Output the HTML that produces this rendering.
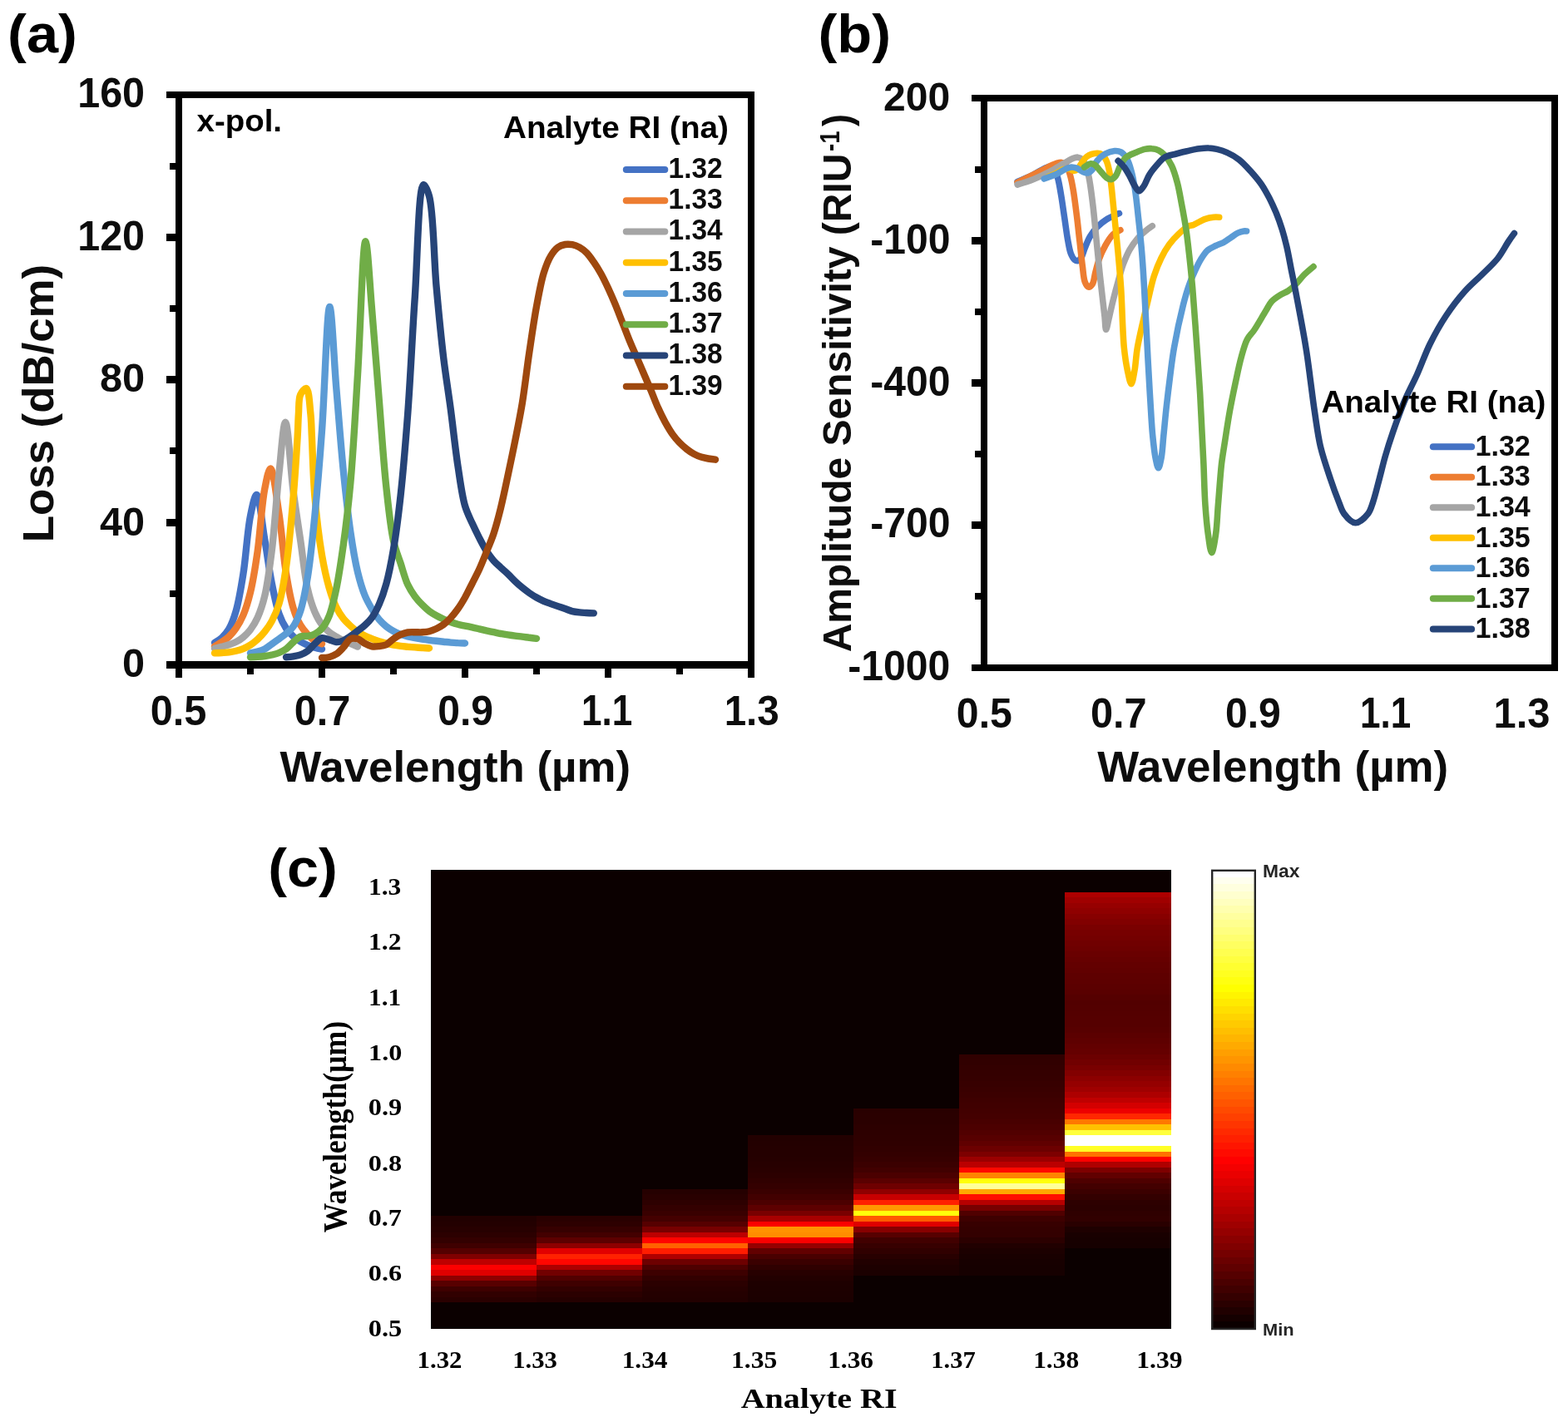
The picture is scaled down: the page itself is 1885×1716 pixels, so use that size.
<!DOCTYPE html>
<html lang="en">
<head>
<meta charset="utf-8">
<title>Loss spectra, amplitude sensitivity and loss map versus analyte RI</title>
<style>
html,body{margin:0;padding:0;background:#fff;}
body{width:1885px;height:1716px;overflow:hidden;}
svg{display:block;}
text{white-space:pre;}
</style>
</head>
<body>
<svg xmlns="http://www.w3.org/2000/svg" width="1885" height="1716" viewBox="0 0 1885 1716">
<rect x="0" y="0" width="1885" height="1716" fill="#fff"/>
<g id="panelA">
<g shape-rendering="crispEdges">
<rect x="211" y="110" width="8" height="705" fill="#000"/>
<rect x="899" y="110" width="8" height="705" fill="#000"/>
<rect x="200" y="110" width="707" height="8" fill="#000"/>
<rect x="200" y="795" width="707" height="9" fill="#000"/>
<rect x="204" y="196" width="11" height="8" fill="#000"/>
<rect x="200" y="281" width="15" height="9" fill="#000"/>
<rect x="204" y="367" width="11" height="8" fill="#000"/>
<rect x="200" y="452" width="15" height="9" fill="#000"/>
<rect x="204" y="538" width="11" height="8" fill="#000"/>
<rect x="200" y="624" width="15" height="9" fill="#000"/>
<rect x="204" y="710" width="11" height="8" fill="#000"/>
<rect x="297" y="800" width="8" height="11" fill="#000"/>
<rect x="383" y="800" width="8" height="15" fill="#000"/>
<rect x="469" y="800" width="8" height="11" fill="#000"/>
<rect x="555" y="800" width="8" height="15" fill="#000"/>
<rect x="641" y="800" width="8" height="11" fill="#000"/>
<rect x="727" y="800" width="8" height="15" fill="#000"/>
<rect x="813" y="800" width="8" height="11" fill="#000"/>
</g>
<path d="M258,772.8C258,772.8 263.9,769.5 266.6,767C269.7,764.2 272.6,760.8 275.2,756.4C278.6,750.6 281.3,743.1 283.8,734.4C287.3,722.3 289.8,706.7 292.4,690.2C295.7,669.7 297.4,637.9 301,620.5C303.2,609.8 306.1,594.8 308.5,594.9C311.9,595.1 315.1,630.6 318.2,648.4C321.2,666.1 323.6,685.5 326.8,701.5C329.4,714.8 331.9,728 335.4,737.8C337.9,744.9 340.8,750.7 344,755.6C346.6,759.5 349.6,762.6 352.6,765.3C355.3,767.8 358.3,769.7 361.2,771.5C364,773.2 366.9,774.6 369.8,775.8C372.6,777 375.5,777.8 378.4,778.6C381.2,779.4 387,780.5 387,780.5" fill="none" stroke="#4472C4" stroke-width="8.4" stroke-linecap="round" stroke-linejoin="round"/>
<path d="M258,777.3C258,777.3 263.8,773.9 266.6,772C269.5,770 272.5,768.2 275.2,765.6C278.2,762.7 281.1,759.3 283.8,755.4C286.9,750.9 289.8,745.8 292.4,739.7C295.7,731.9 298.4,722.8 301,712.2C304.4,698.3 307,681.4 309.6,663.3C312.8,641 314.6,606.3 318.2,588.1C320.3,577.5 322.9,563.3 325.2,563.4C328.6,563.6 332.4,598.3 335.4,617.7C338.8,640 340.6,669 344,689.7C346.6,705.5 349.1,719.9 352.6,731.2C355.1,739.4 357.9,746.1 361.2,751.7C363.8,756.2 366.8,759.6 369.8,762.8C372.5,765.7 375.4,768.6 378.4,770.5C381.1,772.2 387,774.2 387,774.2" fill="none" stroke="#ED7D31" stroke-width="8.4" stroke-linecap="round" stroke-linejoin="round"/>
<path d="M258,779.8C258,779.8 263.7,778.4 266.6,777.7C269.5,776.9 272.4,776.3 275.2,775.3C278.1,774.3 281,773.4 283.8,771.9C286.7,770.4 289.7,768.5 292.4,766.2C295.4,763.7 298.3,760.7 301,757.2C304.1,753.1 307,748.4 309.6,742.7C312.9,735.5 315.7,727.2 318.2,716.8C321.8,702 324.2,682.4 326.8,661.6C330.1,634.8 332.4,597 335.4,569.4C337.9,546.8 340.5,507.7 343.1,507.7C346.2,507.7 349.3,565.6 352.6,590.9C355.4,612.2 358.3,630.2 361.2,649.8C364.1,669.3 366.2,692.3 369.8,708C372.3,719.1 375.1,728 378.4,735.8C381,741.8 383.8,747 387,751.2C389.7,754.7 392.6,757.5 395.6,760C398.3,762.3 401.3,763.9 404.2,765.6C407,767.3 409.9,769 412.8,770.4C415.6,771.8 418.5,772.7 421.4,773.9C424.3,775.1 430,777.6 430,777.6" fill="none" stroke="#A5A5A5" stroke-width="8.4" stroke-linecap="round" stroke-linejoin="round"/>
<path d="M258,785.4C258,785.4 263.7,785.2 266.6,785C269.5,784.8 272.3,784.7 275.2,784.3C278.1,783.9 281,783.5 283.8,782.8C286.7,782.1 289.6,781.3 292.4,780.1C295.3,778.9 298.2,777.4 301,775.6C304,773.7 306.8,771.3 309.6,768.8C312.6,766.1 315.5,763.1 318.2,759.7C321.2,755.9 324.2,751.8 326.8,746.9C330,740.9 332.9,734.5 335.4,726.1C339,714.2 341.5,698.9 344,681.7C347.5,658.2 350.3,624.7 352.6,597.8C354.7,572.9 356.5,544.2 357.6,525.8C358.3,514.3 358.3,506.7 358.9,497.8C359.5,489.7 358.7,479.8 361.2,474.5C362.8,471 366.4,466.5 368.3,467.1C371.5,468.1 372.3,487.8 373.4,497.8C374.4,507.3 374.3,514.3 374.9,525.8C375.8,544.1 376.4,573.2 378.4,596.8C380.4,620.5 383.6,647.6 387,667.6C389.6,682.6 392.3,695.2 395.6,706.5C398.2,715.5 400.9,723.5 404.2,730.2C406.8,735.5 409.7,740 412.8,743.9C415.5,747.3 418.5,750 421.4,752.7C424.2,755.3 427,757.7 430,759.7C432.8,761.6 435.7,763.1 438.6,764.5C441.4,765.9 444.3,767 447.2,768.1C450.1,769.2 452.9,770.3 455.8,771.2C458.7,772.1 461.5,773 464.4,773.7C467.3,774.4 470.1,775.1 473,775.6C475.9,776.1 478.7,776.5 481.6,776.9C484.5,777.3 487.3,777.5 490.2,777.8C493.1,778 495.9,778.2 498.8,778.4C501.7,778.6 504.5,778.8 507.4,779C510.3,779.2 516,779.5 516,779.5" fill="none" stroke="#FFC000" stroke-width="8.4" stroke-linecap="round" stroke-linejoin="round"/>
<path d="M301,785.4C301,785.4 306.8,784.4 309.6,783.6C312.5,782.8 315.4,781.9 318.2,780.5C321.2,779 323.9,776.5 326.8,774.5C329.7,772.5 332.5,770.4 335.4,768.3C338.3,766.2 341.2,764.3 344,761.9C347,759.3 350,757 352.6,753.3C356,748.5 358.7,742.2 361.2,734.6C364.8,723.8 367.2,709.7 369.8,694.1C373.2,673.2 375.7,647 378.4,620.3C381.5,588.9 384.3,554.9 387,517.5C390.3,472.6 393.1,369 396.3,369C398.9,369 401.5,433 404.2,465.5C407,498.7 409.7,535.2 412.8,566.2C415.5,592.8 418.2,618.2 421.4,640.1C424,657.8 426.7,674.2 430,688C432.6,698.7 435.3,708 438.6,716C441.2,722.4 444.2,727.5 447.2,732.6C449.9,737.2 452.7,741.5 455.8,745.1C458.5,748.3 461.4,751 464.4,753.4C467.2,755.6 470.1,757.4 473,759C475.8,760.5 478.7,761.8 481.6,762.9C484.4,763.9 487.3,764.7 490.2,765.4C493.1,766.1 495.9,766.6 498.8,767.1C501.7,767.6 504.5,768.1 507.4,768.6C510.3,769 513.1,769.4 516,769.8C518.9,770.2 521.7,770.5 524.6,770.8C527.5,771.1 530.3,771.4 533.2,771.7C536.1,772 538.9,772.4 541.8,772.6C544.7,772.8 547.5,772.9 550.4,773.1C553.3,773.2 559,773.5 559,773.5" fill="none" stroke="#5B9BD5" stroke-width="8.4" stroke-linecap="round" stroke-linejoin="round"/>
<path d="M301,790.3C301,790.3 306.7,790 309.6,789.8C312.5,789.6 315.3,789.4 318.2,789C321.1,788.6 324,788.2 326.8,787.5C329.7,786.8 332.6,786.2 335.4,785C338.3,783.8 341.3,782.3 344,780.3C347,778.1 349.7,774.7 352.6,772.2C355.4,769.8 358.1,766.7 361.2,765.5C363.9,764.5 367,765.4 369.8,764.9C372.7,764.4 375.7,763.8 378.4,762.4C381.4,760.9 384.4,758.8 387,755.8C390.3,752.1 393.1,747 395.6,740.9C399.1,732.3 401.6,720.6 404.2,708.3C407.5,692.8 410.1,674.4 412.8,655.1C416,632.2 418.8,608.3 421.4,579.8C424.8,542.5 427.2,495.7 430,450.2C433.2,399.7 436,290.3 439.4,290.2C441.9,290.2 444.6,343.9 447.2,373.5C450.1,407.2 452.9,445.8 455.8,481.5C458.6,516.7 461.1,555.8 464.4,586.4C467,610.4 469.3,633.6 473,650.3C475.5,661.4 478.7,668.5 481.6,677.4C484.4,686.1 486.9,696 490.2,703.1C492.8,708.7 495.7,713 498.8,717.2C501.5,720.9 504.4,724 507.4,727C510.2,729.8 513,732.5 516,734.8C518.8,736.9 521.7,738.7 524.6,740.3C527.4,741.9 530.3,743.2 533.2,744.5C536,745.8 538.9,746.9 541.8,748C544.6,749 547.5,750 550.4,750.8C553.2,751.6 556.1,752 559,752.6C561.9,753.2 564.7,753.7 567.6,754.3C570.5,754.9 573.3,755.6 576.2,756.3C579.1,757 581.9,757.7 584.8,758.4C587.7,759 590.5,759.6 593.4,760.2C596.3,760.8 599.1,761.5 602,762C604.9,762.5 607.7,763 610.6,763.4C613.5,763.8 616.3,764.2 619.2,764.6C622.1,765 624.9,765.3 627.8,765.7C630.7,766.1 633.5,766.4 636.4,766.8C639.3,767.1 645,767.8 645,767.8" fill="none" stroke="#70AD47" stroke-width="8.4" stroke-linecap="round" stroke-linejoin="round"/>
<path d="M344,790.3C344,790.3 349.7,789.9 352.6,789.4C355.5,788.9 358.4,788.5 361.2,787.4C364.1,786.3 367.1,784.8 369.8,782.8C372.8,780.5 375.5,776.9 378.4,774.2C381.2,771.7 384,767.9 387,767.2C389.7,766.6 392.8,768.4 395.6,769.2C398.5,770 401.3,771.9 404.2,772.1C407,772.3 410,771.4 412.8,770.3C415.8,769.1 418.6,767 421.4,765.1C424.3,763.1 427.1,760.9 430,758.7C432.9,756.5 435.8,754.5 438.6,751.9C441.6,749.2 444.6,746.4 447.2,742.7C450.4,738.2 453.1,732.7 455.8,726.6C459,719.3 461.8,711.2 464.4,701.8C467.7,689.9 470.4,675.9 473,660.5C476.3,641.4 479,619.6 481.6,595.8C484.8,566.5 487.5,533.2 490.2,497.5C493.4,454.9 495.6,403.4 498.8,357.1C501.9,311.6 503.1,223.3 509.1,222.1C511.1,221.7 514,228.8 516,235.8C521.3,254.6 521.5,310.8 524.6,344.9C527.3,375.1 530.1,404.1 533.2,430.3C535.9,452.6 539,471.1 541.8,492.2C544.7,514.3 547.3,539.3 550.4,560C553.1,577.5 555.3,595.7 559,608.3C561.5,616.8 564.6,622.5 567.6,629.1C570.4,635.3 573.3,641.2 576.2,646.9C579,652.3 581.8,657.8 584.8,662.6C587.5,666.9 590.4,670.9 593.4,674.3C596.1,677.4 599.1,679.8 602,682.5C604.8,685.1 607.8,687.5 610.6,690.2C613.5,693 616.3,696.2 619.2,699C622,701.7 624.9,704.2 627.8,706.6C630.6,708.9 633.5,711.1 636.4,713.1C639.2,715 642.1,716.9 645,718.5C647.8,720.1 650.7,721.5 653.6,722.8C656.4,724 659.3,725 662.2,726.1C665.1,727.1 667.9,728.1 670.8,729.1C673.7,730.1 676.5,731 679.4,732C682.3,733 685.1,734.4 688,735.1C690.8,735.8 693.7,736.1 696.6,736.4C699.5,736.7 702.3,736.8 705.2,737C708.1,737.2 713.8,737.4 713.8,737.4" fill="none" stroke="#264478" stroke-width="8.4" stroke-linecap="round" stroke-linejoin="round"/>
<path d="M387,791C387,791 392.8,790.9 395.6,790.2C398.5,789.5 401.5,788.4 404.2,786.6C407.3,784.6 410,781.5 412.8,778.5C415.8,775.4 418.1,769.7 421.4,768.2C424,767 427.2,767.5 430,768.3C433,769.2 435.7,772.2 438.6,773.7C441.4,775.2 444.3,776.7 447.2,777.3C450,777.8 453,777.4 455.8,777.1C458.7,776.8 461.7,776.5 464.4,775.2C467.4,773.7 470.1,770.4 473,768.3C475.8,766.3 478.6,764.4 481.6,763.1C484.4,761.9 487.3,761 490.2,760.5C493,760 495.9,760.2 498.8,760.2C501.7,760.2 504.5,760.5 507.4,760.3C510.3,760.1 513.2,759.9 516,759.2C518.9,758.5 521.8,757.3 524.6,756C527.5,754.6 530.4,753 533.2,751C536.2,748.8 539,746 541.8,743C544.8,739.8 547.6,736.2 550.4,732.3C553.4,728.1 556.2,723.4 559,718.5C562,713.2 564.7,707.3 567.6,701.7C570.5,696 573.4,690.5 576.2,684.5C579.2,678 582,670.8 584.8,663.8C587.7,656.6 590.7,649.8 593.4,641.8C596.5,632.4 599.3,621.7 602,610.7C605,598.4 607.8,584.8 610.6,571.6C613.5,558 616.4,544.4 619.2,530.3C622.1,515.6 625.1,501.3 627.8,485C630.9,466 633.4,443.1 636.4,423.1C639.2,404.3 641.9,385.3 645,368.5C647.7,354.1 650.2,339.5 653.6,328.4C656.2,320.2 658.8,313.1 662.2,307.6C664.8,303.4 667.6,299.7 670.8,297.4C673.4,295.5 676.5,294.5 679.4,294C682.2,293.5 685.2,293.7 688,294.2C690.9,294.8 693.8,295.9 696.6,297.4C699.6,299.1 702.5,301.3 705.2,304C708.3,307.1 711,311.2 713.8,315.2C716.8,319.5 719.6,324.1 722.4,329C725.4,334.4 728.2,340.3 731,346.3C733.9,352.6 736.8,359.2 739.6,365.9C742.5,372.9 745.3,380.4 748.2,387.7C751.1,395 753.9,402.6 756.8,409.7C759.6,416.5 762.5,422.8 765.4,429.4C768.3,436.1 771.1,442.8 774,449.5C776.9,456.2 779.8,462.9 782.6,469.7C785.5,476.6 788.2,484 791.2,490.6C794,496.7 796.8,502.6 799.8,508C802.6,513 805.4,517.9 808.4,522.1C811.1,525.9 814,529.3 817,532.4C819.8,535.3 822.7,537.8 825.6,540.1C828.4,542.3 831.3,544.3 834.2,545.9C837,547.4 839.9,548.7 842.8,549.6C845.6,550.5 848.5,551 851.4,551.5C854.3,552 860,552.7 860,552.7" fill="none" stroke="#9E480E" stroke-width="8.4" stroke-linecap="round" stroke-linejoin="round"/>
<line x1="752.8" y1="203.9" x2="799.3" y2="203.9" stroke="#4472C4" stroke-width="8" stroke-linecap="round"/>
<line x1="752.8" y1="241.15" x2="799.3" y2="241.15" stroke="#ED7D31" stroke-width="8" stroke-linecap="round"/>
<line x1="752.8" y1="278.4" x2="799.3" y2="278.4" stroke="#A5A5A5" stroke-width="8" stroke-linecap="round"/>
<line x1="752.8" y1="315.65" x2="799.3" y2="315.65" stroke="#FFC000" stroke-width="8" stroke-linecap="round"/>
<line x1="752.8" y1="352.9" x2="799.3" y2="352.9" stroke="#5B9BD5" stroke-width="8" stroke-linecap="round"/>
<line x1="752.8" y1="390.15" x2="799.3" y2="390.15" stroke="#70AD47" stroke-width="8" stroke-linecap="round"/>
<line x1="752.8" y1="427.4" x2="799.3" y2="427.4" stroke="#264478" stroke-width="8" stroke-linecap="round"/>
<line x1="752.8" y1="464.65" x2="799.3" y2="464.65" stroke="#9E480E" stroke-width="8" stroke-linecap="round"/>
<text transform="translate(803.61 213.76) scale(0.9495 1)" font-family='"Liberation Sans", Arial, Helvetica, sans-serif' font-size="35.21" font-weight="bold" fill="#0d0d0d">1.32</text>
<text transform="translate(803.61 251.03) scale(0.9495 1)" font-family='"Liberation Sans", Arial, Helvetica, sans-serif' font-size="35.21" font-weight="bold" fill="#0d0d0d">1.33</text>
<text transform="translate(803.61 288.3) scale(0.9495 1)" font-family='"Liberation Sans", Arial, Helvetica, sans-serif' font-size="35.21" font-weight="bold" fill="#0d0d0d">1.34</text>
<text transform="translate(803.61 325.57) scale(0.9495 1)" font-family='"Liberation Sans", Arial, Helvetica, sans-serif' font-size="35.21" font-weight="bold" fill="#0d0d0d">1.35</text>
<text transform="translate(803.61 362.84) scale(0.9495 1)" font-family='"Liberation Sans", Arial, Helvetica, sans-serif' font-size="35.21" font-weight="bold" fill="#0d0d0d">1.36</text>
<text transform="translate(803.61 400.11) scale(0.9495 1)" font-family='"Liberation Sans", Arial, Helvetica, sans-serif' font-size="35.21" font-weight="bold" fill="#0d0d0d">1.37</text>
<text transform="translate(803.61 437.38) scale(0.9495 1)" font-family='"Liberation Sans", Arial, Helvetica, sans-serif' font-size="35.21" font-weight="bold" fill="#0d0d0d">1.38</text>
<text transform="translate(803.61 474.65) scale(0.9495 1)" font-family='"Liberation Sans", Arial, Helvetica, sans-serif' font-size="35.21" font-weight="bold" fill="#0d0d0d">1.39</text>
<text transform="translate(604.93 166.25) scale(1.0231 1)" font-family='"Liberation Sans", Arial, Helvetica, sans-serif' font-size="37.86" font-weight="bold" fill="#000">Analyte RI (na)</text>
<text transform="translate(236.61 158.21) scale(1.0506 1)" font-family='"Liberation Sans", Arial, Helvetica, sans-serif' font-size="36.57" font-weight="bold" fill="#000">x-pol.</text>
<text transform="translate(93.17 128.71) scale(0.9804 1)" font-family='"Liberation Sans", Arial, Helvetica, sans-serif' font-size="49.47" font-weight="bold" fill="#0d0d0d">160</text>
<text transform="translate(93.17 300.6) scale(0.9776 1)" font-family='"Liberation Sans", Arial, Helvetica, sans-serif' font-size="49.61" font-weight="bold" fill="#0d0d0d">120</text>
<text transform="translate(119.91 471.41) scale(0.9973 1)" font-family='"Liberation Sans", Arial, Helvetica, sans-serif' font-size="48.9" font-weight="bold" fill="#0d0d0d">80</text>
<text transform="translate(120.07 643.51) scale(0.9943 1)" font-family='"Liberation Sans", Arial, Helvetica, sans-serif' font-size="48.9" font-weight="bold" fill="#0d0d0d">40</text>
<text transform="translate(147.05 814.31) scale(0.9944 1)" font-family='"Liberation Sans", Arial, Helvetica, sans-serif' font-size="48.9" font-weight="bold" fill="#0d0d0d">0</text>
<text transform="translate(180.65 871.8) scale(0.9788 1)" font-family='"Liberation Sans", Arial, Helvetica, sans-serif' font-size="49.75" font-weight="bold" fill="#0d0d0d">0.5</text>
<text transform="translate(353.65 871.8) scale(0.9792 1)" font-family='"Liberation Sans", Arial, Helvetica, sans-serif' font-size="49.75" font-weight="bold" fill="#0d0d0d">0.7</text>
<text transform="translate(526.28 871.8) scale(0.966 1)" font-family='"Liberation Sans", Arial, Helvetica, sans-serif' font-size="49.75" font-weight="bold" fill="#0d0d0d">0.9</text>
<text transform="translate(698.95 872.3) scale(0.8609 1)" font-family='"Liberation Sans", Arial, Helvetica, sans-serif' font-size="51.2" font-weight="bold" fill="#0d0d0d">1.1</text>
<text transform="translate(870.63 871.68) scale(0.9598 1)" font-family='"Liberation Sans", Arial, Helvetica, sans-serif' font-size="49.58" font-weight="bold" fill="#0d0d0d">1.3</text>
<text transform="translate(336.47 940.04) scale(1.0146 1)" font-family='"Liberation Sans", Arial, Helvetica, sans-serif' font-size="52.05" font-weight="bold" fill="#0d0d0d">Wavelength (µm)</text>
<text transform="translate(64.1 652.36) rotate(-90) scale(1.005 1)" font-family='"Liberation Sans", Arial, Helvetica, sans-serif' font-size="52.55" font-weight="bold" fill="#0d0d0d">Loss (dB/cm)</text>
<text transform="translate(9.07 63.42) scale(1.0542 1)" font-family='"Liberation Sans", Arial, Helvetica, sans-serif' font-size="64.99" font-weight="bold" fill="#000">(a)</text>
</g>
<g id="panelB">
<g shape-rendering="crispEdges">
<rect x="1179" y="114" width="8" height="693" fill="#000"/>
<rect x="1865" y="114" width="8" height="693" fill="#000"/>
<rect x="1168" y="114" width="705" height="8" fill="#000"/>
<rect x="1168" y="799" width="705" height="8" fill="#000"/>
<rect x="1172" y="200" width="11" height="8" fill="#000"/>
<rect x="1168" y="285" width="15" height="9" fill="#000"/>
<rect x="1172" y="371" width="11" height="8" fill="#000"/>
<rect x="1168" y="456" width="15" height="9" fill="#000"/>
<rect x="1172" y="542" width="11" height="8" fill="#000"/>
<rect x="1168" y="627" width="15" height="9" fill="#000"/>
<rect x="1172" y="713" width="11" height="8" fill="#000"/>
</g>
<path d="M1223.1,218.5C1223.1,218.5 1235.8,213.1 1242,210.1C1248.1,207.2 1255.5,201.6 1260.1,200.6C1262.7,200.1 1264.7,199.8 1266.4,201C1268.9,202.8 1269.9,208.3 1271.3,212.9C1273.1,218.9 1274.2,226.4 1275.5,233.9C1277,242.6 1278.3,252.6 1279.7,261.9C1281.1,271.2 1282.4,281.9 1283.9,289.9C1285,295.8 1285.8,301.2 1287.4,305.2C1288.6,308.1 1289.9,310.9 1291.6,312.2C1292.9,313.2 1294.5,313.9 1295.8,313.6C1297.3,313.3 1298.8,311.3 1300,309.4C1301.7,306.7 1302.6,302.2 1304.2,298.3C1306,293.8 1308,288.5 1310.5,284.3C1312.9,280.2 1315.6,276.4 1318.9,273.1C1322.2,269.7 1325.9,266.7 1330.1,264C1334.6,261.1 1345.5,256.6 1345.5,256.6" fill="none" stroke="#4472C4" stroke-width="7.6" stroke-linecap="round" stroke-linejoin="round"/>
<path d="M1223.1,219.5C1223.1,219.5 1241.1,210.6 1249,206.6C1255.5,203.4 1262,199.4 1267.1,197.6C1270.6,196.3 1273.6,194.9 1276.2,195.5C1278.7,196 1280.8,198.1 1282.5,200.3C1284.6,203.1 1285.5,207.4 1286.7,211.5C1288.2,216.5 1289.1,221.9 1290.2,228.3C1291.7,237 1293.1,248.8 1294.4,259.1C1295.7,269.3 1296.7,279.6 1297.9,289.9C1299.1,300.1 1300.2,311.7 1301.4,320.6C1302.3,327.5 1302.5,334.4 1304.2,338.8C1305.3,341.6 1306.8,344.8 1308.4,345.1C1309.8,345.4 1312,343.5 1313.3,341.6C1315.3,338.7 1315.5,332.5 1316.8,327.6C1318.2,322.3 1319.7,316.2 1321.7,310.8C1323.6,305.5 1326,300.2 1328.7,295.5C1331.2,290.9 1333.8,286.1 1337.1,282.9C1339.9,280 1346.9,276.6 1346.9,276.6" fill="none" stroke="#ED7D31" stroke-width="7.6" stroke-linecap="round" stroke-linejoin="round"/>
<path d="M1223.1,222C1223.1,222 1235.6,218.3 1242,215.7C1248.8,213 1256.6,209.3 1262.9,205.9C1268.5,203 1273.6,199.6 1278.3,196.9C1282.3,194.5 1286.2,191.8 1289.5,190.6C1291.8,189.7 1293.8,188.9 1295.8,189.2C1297.8,189.4 1299.8,190.4 1301.4,192C1303.5,194.1 1305,198 1306.3,201.7C1307.9,206.2 1308.7,211.1 1309.8,217.1C1311.3,225.6 1312.7,236.8 1314,247.9C1315.5,260.8 1316.8,275.9 1318.2,289.9C1319.6,303.8 1321,318.9 1322.4,331.8C1323.6,342.9 1324.9,353.7 1325.9,362.6C1326.7,369.4 1327.3,374.9 1328,380.8C1328.6,386.1 1328.7,396.2 1329.7,396.3C1330.6,396.4 1332.2,386.3 1333.6,380.8C1335.1,374.3 1336.7,366.8 1338.5,359.8C1340.2,352.8 1342.1,345.8 1344.1,338.8C1346,331.8 1347.9,324.4 1350.3,317.8C1352.6,311.7 1355,305.7 1358,300.3C1360.9,295.3 1364.3,290.4 1367.8,286.4C1370.9,282.8 1374.5,279.9 1377.6,277.3C1380.3,275.1 1385.3,271.7 1385.3,271.7" fill="none" stroke="#A5A5A5" stroke-width="7.6" stroke-linecap="round" stroke-linejoin="round"/>
<path d="M1260.1,212.5C1260.1,212.5 1266.8,209.9 1269.9,208.3C1272.9,206.9 1275.6,204.4 1278.3,203.6C1280.7,202.9 1283.1,202.8 1285.3,203.1C1287.3,203.5 1289.2,205.4 1290.9,205.4C1292.4,205.4 1293.8,204.8 1295.1,203.8C1296.8,202.5 1297.9,199.6 1299.6,197.3C1301.6,194.5 1303.3,190.6 1306.3,188.5C1309.6,186.1 1315.5,184.4 1318.9,184.3C1321.1,184.2 1322.8,184.5 1324.5,185.7C1326.6,187.1 1328.6,190.3 1330.1,193.4C1331.8,196.9 1332.6,201.2 1333.6,205.9C1334.8,212 1335.4,219 1336.4,226.9C1337.5,237.1 1338.6,249.7 1339.9,261.9C1341.2,275.2 1342.8,289.9 1344.1,303.8C1345.3,317.8 1346.5,329.9 1347.6,345.8C1349,366.6 1349.5,399.5 1351.3,418C1352.5,429.5 1353.8,438 1355.5,445.9C1356.8,452 1358.6,461.6 1360,461.6C1361.4,461.6 1362.8,452 1363.9,445.9C1365.4,438 1365.5,428.9 1367.4,418C1370.2,402 1376.7,375.7 1380.4,359.8C1383,348.8 1384.6,340.4 1387.4,331.8C1389.9,324.2 1392.6,317.3 1395.8,310.8C1398.7,304.8 1401.9,299.1 1405.6,294.1C1409,289.4 1412.8,285.2 1416.8,281.5C1420.7,277.8 1425.9,273.4 1429.4,271.7C1431.5,270.7 1432.7,271.1 1435,270.3C1438.6,268.9 1444.6,264.8 1449,263.3C1452.4,262.1 1455.7,261.5 1458.7,261.2C1461.3,260.9 1465.7,261.2 1465.7,261.2" fill="none" stroke="#FFC000" stroke-width="7.6" stroke-linecap="round" stroke-linejoin="round"/>
<path d="M1255.2,215C1255.2,215 1265.4,211.5 1269.9,209.4C1274,207.5 1277.8,204.6 1281.1,203.1C1283.7,202.1 1285.8,201.2 1288.1,201C1290.4,200.9 1292.8,201.6 1295.1,202.4C1297.5,203.4 1299.8,205.7 1302.1,206.6C1304,207.4 1305.9,208.4 1307.7,208C1309.7,207.6 1311.6,205.8 1313.3,203.8C1315.5,201.3 1316.4,196.5 1318.9,193.4C1321.5,190.1 1325.1,187 1328.7,185C1332.1,183.1 1336.5,181.7 1339.9,181.5C1342.6,181.3 1345.2,181.6 1347.6,182.9C1350.2,184.3 1352.6,187.3 1354.5,190.6C1357,194.6 1358.6,200.4 1360.1,205.9C1361.9,212.3 1363.1,219 1364.3,226.9C1366,237.1 1367.2,249.7 1368.5,261.9C1370,275.2 1371.6,289.9 1372.7,303.8C1373.9,317.8 1374.5,329.3 1375.5,345.8C1376.9,369.4 1378.7,407.3 1380,432C1381,450.6 1381.8,465.2 1382.8,480.9C1383.7,495.4 1384.4,510.3 1385.6,522.9C1386.6,533.1 1387.6,543.5 1389.1,550.8C1390.1,555.7 1391.4,562.7 1392.6,562.7C1393.8,562.7 1395.1,555.7 1396.1,550.8C1397.5,543.5 1397.9,532.7 1398.9,522.9C1400,511.9 1401.1,499.6 1402.4,487.9C1403.7,476.2 1405.1,464.6 1406.6,452.9C1408.1,441.3 1409.2,430.7 1411.5,418C1414.2,402.5 1418.9,380.6 1422.4,366.8C1424.8,357.3 1426.8,350.2 1429.4,343C1431.5,336.9 1433.9,331.5 1436.4,326.2C1438.6,321.3 1440.7,316.5 1443.4,312.2C1445.9,308.2 1448.5,303.9 1451.7,301C1454.7,298.5 1458.2,297.1 1461.5,295.5C1464.8,293.9 1468.3,292.9 1471.3,291.3C1474.3,289.6 1476.9,287.5 1479.7,285.7C1482.5,283.8 1485.3,281.4 1488.1,280.1C1490.5,279 1493.2,278.3 1495.1,278C1496.5,277.8 1498.6,278 1498.6,278" fill="none" stroke="#5B9BD5" stroke-width="7.6" stroke-linecap="round" stroke-linejoin="round"/>
<path d="M1303.5,201C1303.5,201 1308.2,197.2 1310.5,196.9C1312.4,196.6 1314.3,197.2 1316.1,198.3C1318.5,199.7 1320.7,203.4 1323.1,205.9C1325.4,208.5 1327.7,212 1330.1,213.6C1331.9,214.9 1333.9,216 1335.7,215.7C1337.6,215.5 1339.6,213.6 1341.3,211.5C1343.6,208.6 1344.7,202.8 1346.9,199C1348.9,195.4 1350.9,191.7 1353.8,189.2C1356.9,186.6 1361.3,185.2 1365,183.6C1368.7,182 1372.7,180.2 1376.2,179.4C1379.2,178.7 1381.8,178.4 1384.6,178.7C1387.4,178.9 1390.5,179.5 1393,180.8C1395.6,182.1 1397.7,183.9 1400,186.4C1402.9,189.6 1406,194 1408.4,199C1411.3,204.9 1413.4,212.4 1415.4,219.9C1417.7,228.5 1419.2,238.6 1421,247.9C1422.7,257.2 1424.4,266 1425.9,275.9C1427.5,286.9 1428.8,299.2 1430.1,310.8C1431.4,322.5 1432.3,331.6 1433.6,345.8C1435.5,368.1 1438.2,408.3 1439.9,432C1441,448.4 1441.8,459.9 1442.7,473.9C1443.5,487.9 1444.1,501.9 1444.8,515.9C1445.5,529.9 1446.2,543.2 1446.9,557.8C1447.6,573.8 1447.9,592.8 1449,608C1449.9,620.7 1450.9,632.7 1452.4,642.9C1453.6,651.1 1455.1,664.6 1456.6,664.6C1458.2,664.6 1460.3,651.1 1461.5,642.9C1463.1,632.7 1463.3,620.7 1464.3,608C1465.6,592.8 1466.9,572.1 1468.5,557.8C1469.8,547.1 1471.2,539.7 1472.7,529.9C1474.4,518.9 1476.2,506.5 1478.3,494.9C1480.4,483.2 1482.9,471.2 1485.3,459.9C1487.6,449.3 1489.7,438.4 1492.3,429.2C1494.5,421.4 1496.3,413.9 1499.3,408.2C1501.7,403.6 1504.7,401.5 1507.7,397C1511.9,390.7 1517.8,380.1 1521.7,373.8C1524.4,369.4 1525.7,365.8 1528.7,362.6C1531.7,359.3 1536.3,356.4 1539.9,354.2C1542.8,352.4 1545.5,351.9 1548.3,350C1551.5,347.8 1554.9,344.7 1558,341.6C1561.4,338.3 1564.3,333.9 1567.8,330.4C1571.3,326.9 1579,320.6 1579,320.6" fill="none" stroke="#70AD47" stroke-width="7.6" stroke-linecap="round" stroke-linejoin="round"/>
<path d="M1344.1,193.4C1344.1,193.4 1348.9,197.6 1351,200.3C1353.6,203.5 1355.9,207.8 1358,211.5C1360.1,215.2 1361.6,219.5 1363.6,222.7C1365.4,225.4 1367.3,229.6 1369.2,229.7C1371,229.8 1373,226.6 1374.8,224.1C1377.3,220.7 1379,214.5 1381.8,210.1C1384.6,205.7 1388.4,201.2 1391.6,197.6C1394.4,194.4 1396.5,191.2 1400,189.2C1403.8,186.9 1409.3,186.3 1414,185C1418.6,183.7 1423.3,182.5 1428,181.5C1432.6,180.4 1437.5,179.2 1442,178.7C1445.9,178.2 1449.5,177.8 1453.1,178C1456.5,178.1 1459.5,178.6 1462.9,179.4C1466.9,180.3 1471.3,181.6 1475.5,183.6C1480.2,185.7 1485.1,188.5 1489.5,192C1494.4,195.8 1499.1,201.1 1503.5,205.9C1507.9,210.8 1512.3,215.9 1516.1,221.3C1519.8,226.7 1522.9,232.3 1525.9,238.1C1528.9,244 1531.7,250.1 1534.3,256.3C1536.9,262.6 1539.2,269.2 1541.3,275.9C1543.4,282.7 1545.1,289.3 1546.9,296.9C1548.9,305.5 1550.6,315.5 1552.4,324.8C1554.3,334.1 1555.9,341.5 1558,352.8C1561.3,370 1567,399.6 1569.9,418C1572.1,431.4 1573.2,440.7 1574.8,452.9C1576.6,466.3 1578.3,480.9 1580.4,494.9C1582.5,508.9 1584.2,523.2 1587.4,536.9C1590.6,550.2 1595.4,564 1599.4,575.9C1602.8,586.1 1606.5,596.2 1609.6,603.9C1611.8,609.4 1612.8,613.8 1615.9,617.9C1619.2,622.2 1624.8,628.7 1629.5,628.8C1634.3,628.9 1641,622.3 1644.5,617.9C1647.7,613.9 1648.6,609.4 1650.5,603.9C1653.2,596.2 1655.7,585.2 1658.2,575.9C1660.7,566.6 1662.8,557.3 1665.5,548C1668.2,538.6 1671,529.9 1674.4,520C1678.3,508.7 1682.8,495.7 1687.7,484C1692.6,472.4 1698.5,461.5 1703.7,450C1709,438.2 1713.2,425.7 1718.9,414C1724.7,402.3 1731.1,390.7 1738.2,380C1745.2,369.5 1753.3,358.9 1761,350.3C1767.6,342.9 1774.3,337.4 1780.9,330.9C1787.5,324.3 1794.7,318 1800.3,311C1805.6,304.4 1809.9,295.6 1813.7,290C1816.3,286.2 1820.4,280.6 1820.4,280.6" fill="none" stroke="#264478" stroke-width="7.6" stroke-linecap="round" stroke-linejoin="round"/>
<line x1="1722.8" y1="537.2" x2="1769.1" y2="537.2" stroke="#4472C4" stroke-width="8" stroke-linecap="round"/>
<line x1="1722.8" y1="573.73" x2="1769.1" y2="573.73" stroke="#ED7D31" stroke-width="8" stroke-linecap="round"/>
<line x1="1722.8" y1="610.26" x2="1769.1" y2="610.26" stroke="#A5A5A5" stroke-width="8" stroke-linecap="round"/>
<line x1="1722.8" y1="646.79" x2="1769.1" y2="646.79" stroke="#FFC000" stroke-width="8" stroke-linecap="round"/>
<line x1="1722.8" y1="683.32" x2="1769.1" y2="683.32" stroke="#5B9BD5" stroke-width="8" stroke-linecap="round"/>
<line x1="1722.8" y1="719.85" x2="1769.1" y2="719.85" stroke="#70AD47" stroke-width="8" stroke-linecap="round"/>
<line x1="1722.8" y1="756.38" x2="1769.1" y2="756.38" stroke="#264478" stroke-width="8" stroke-linecap="round"/>
<text transform="translate(1773.47 547.86) scale(0.9641 1)" font-family='"Liberation Sans", Arial, Helvetica, sans-serif' font-size="35.35" font-weight="bold" fill="#0d0d0d">1.32</text>
<text transform="translate(1773.47 584.41) scale(0.9641 1)" font-family='"Liberation Sans", Arial, Helvetica, sans-serif' font-size="35.35" font-weight="bold" fill="#0d0d0d">1.33</text>
<text transform="translate(1773.47 620.96) scale(0.9641 1)" font-family='"Liberation Sans", Arial, Helvetica, sans-serif' font-size="35.35" font-weight="bold" fill="#0d0d0d">1.34</text>
<text transform="translate(1773.47 657.51) scale(0.9641 1)" font-family='"Liberation Sans", Arial, Helvetica, sans-serif' font-size="35.35" font-weight="bold" fill="#0d0d0d">1.35</text>
<text transform="translate(1773.47 694.06) scale(0.9641 1)" font-family='"Liberation Sans", Arial, Helvetica, sans-serif' font-size="35.35" font-weight="bold" fill="#0d0d0d">1.36</text>
<text transform="translate(1773.47 730.61) scale(0.9641 1)" font-family='"Liberation Sans", Arial, Helvetica, sans-serif' font-size="35.35" font-weight="bold" fill="#0d0d0d">1.37</text>
<text transform="translate(1773.47 767.16) scale(0.9641 1)" font-family='"Liberation Sans", Arial, Helvetica, sans-serif' font-size="35.35" font-weight="bold" fill="#0d0d0d">1.38</text>
<text transform="translate(1588.44 496.11) scale(1.0276 1)" font-family='"Liberation Sans", Arial, Helvetica, sans-serif' font-size="37.53" font-weight="bold" fill="#000">Analyte RI (na)</text>
<text transform="translate(1062.12 132.61) scale(0.9836 1)" font-family='"Liberation Sans", Arial, Helvetica, sans-serif' font-size="48.9" font-weight="bold" fill="#0d0d0d">200</text>
<text transform="translate(1046.18 304.91) scale(0.9773 1)" font-family='"Liberation Sans", Arial, Helvetica, sans-serif' font-size="49.19" font-weight="bold" fill="#0d0d0d">-100</text>
<text transform="translate(1046.18 475.91) scale(0.9802 1)" font-family='"Liberation Sans", Arial, Helvetica, sans-serif' font-size="49.05" font-weight="bold" fill="#0d0d0d">-400</text>
<text transform="translate(1046.18 646.41) scale(0.9745 1)" font-family='"Liberation Sans", Arial, Helvetica, sans-serif' font-size="49.33" font-weight="bold" fill="#0d0d0d">-700</text>
<text transform="translate(1019.28 817.61) scale(0.9726 1)" font-family='"Liberation Sans", Arial, Helvetica, sans-serif' font-size="49.47" font-weight="bold" fill="#0d0d0d">-1000</text>
<text transform="translate(1149.87 874.9) scale(0.9654 1)" font-family='"Liberation Sans", Arial, Helvetica, sans-serif' font-size="49.89" font-weight="bold" fill="#0d0d0d">0.5</text>
<text transform="translate(1310.95 874.9) scale(0.9764 1)" font-family='"Liberation Sans", Arial, Helvetica, sans-serif' font-size="49.89" font-weight="bold" fill="#0d0d0d">0.7</text>
<text transform="translate(1472.98 874.9) scale(0.9633 1)" font-family='"Liberation Sans", Arial, Helvetica, sans-serif' font-size="49.89" font-weight="bold" fill="#0d0d0d">0.9</text>
<text transform="translate(1635.05 875.4) scale(0.8584 1)" font-family='"Liberation Sans", Arial, Helvetica, sans-serif' font-size="51.35" font-weight="bold" fill="#0d0d0d">1.1</text>
<text transform="translate(1795.55 874.78) scale(0.9819 1)" font-family='"Liberation Sans", Arial, Helvetica, sans-serif' font-size="49.72" font-weight="bold" fill="#0d0d0d">1.3</text>
<text transform="translate(1319.17 940.04) scale(1.0158 1)" font-family='"Liberation Sans", Arial, Helvetica, sans-serif' font-size="52.05" font-weight="bold" fill="#0d0d0d">Wavelength (µm)</text>
<text transform="translate(1023.04 784.3) rotate(-90) scale(0.9897 1)" font-family='"Liberation Sans", Arial, Helvetica, sans-serif' font-size="48.47" font-weight="bold" fill="#0d0d0d">Amplitude Sensitivity (RIU</text>
<text transform="translate(1009 181.91) rotate(-90) scale(0.8275 1)" font-family='"Liberation Sans", Arial, Helvetica, sans-serif' font-size="33.45" font-weight="bold" fill="#0d0d0d">-1</text>
<text transform="translate(1023.04 152.01) rotate(-90) scale(0.921 1)" font-family='"Liberation Sans", Arial, Helvetica, sans-serif' font-size="48.47" font-weight="bold" fill="#0d0d0d">)</text>
<text transform="translate(983.47 63.42) scale(1.0559 1)" font-family='"Liberation Sans", Arial, Helvetica, sans-serif' font-size="64.99" font-weight="bold" fill="#000">(b)</text>
</g>
<g id="panelC" shape-rendering="crispEdges">
<rect x="518" y="1046" width="890" height="552" fill="#0b0000"/>
<rect x="518" y="1559.71" width="127" height="6.51" fill="#2a0000"/>
<rect x="518" y="1553.22" width="127" height="6.51" fill="#310000"/>
<rect x="518" y="1546.73" width="127" height="6.51" fill="#3e0000"/>
<rect x="518" y="1540.24" width="127" height="6.51" fill="#580000"/>
<rect x="518" y="1533.75" width="127" height="6.51" fill="#8c0000"/>
<rect x="518" y="1527.26" width="127" height="6.51" fill="#df0000"/>
<rect x="518" y="1520.77" width="127" height="6.51" fill="#fc0000"/>
<rect x="518" y="1514.28" width="127" height="6.51" fill="#be0000"/>
<rect x="518" y="1507.79" width="127" height="6.51" fill="#7f0000"/>
<rect x="518" y="1501.3" width="127" height="6.51" fill="#540000"/>
<rect x="518" y="1494.81" width="127" height="6.51" fill="#3f0000"/>
<rect x="518" y="1488.32" width="127" height="6.51" fill="#330000"/>
<rect x="518" y="1481.83" width="127" height="6.51" fill="#2c0000"/>
<rect x="518" y="1475.34" width="127" height="6.51" fill="#270000"/>
<rect x="518" y="1468.85" width="127" height="6.51" fill="#230000"/>
<rect x="518" y="1462.36" width="127" height="6.51" fill="#210000"/>
<rect x="645" y="1559.71" width="127" height="6.51" fill="#250000"/>
<rect x="645" y="1553.22" width="127" height="6.51" fill="#2b0000"/>
<rect x="645" y="1546.73" width="127" height="6.51" fill="#330000"/>
<rect x="645" y="1540.24" width="127" height="6.51" fill="#3f0000"/>
<rect x="645" y="1533.75" width="127" height="6.51" fill="#510000"/>
<rect x="645" y="1527.26" width="127" height="6.51" fill="#720000"/>
<rect x="645" y="1520.77" width="127" height="6.51" fill="#ac0000"/>
<rect x="645" y="1514.28" width="127" height="6.51" fill="#ff0600"/>
<rect x="645" y="1507.79" width="127" height="6.51" fill="#ff2100"/>
<rect x="645" y="1501.3" width="127" height="6.51" fill="#e20000"/>
<rect x="645" y="1494.81" width="127" height="6.51" fill="#8d0000"/>
<rect x="645" y="1488.32" width="127" height="6.51" fill="#5c0000"/>
<rect x="645" y="1481.83" width="127" height="6.51" fill="#430000"/>
<rect x="645" y="1475.34" width="127" height="6.51" fill="#360000"/>
<rect x="645" y="1468.85" width="127" height="6.51" fill="#2d0000"/>
<rect x="645" y="1462.36" width="127" height="6.51" fill="#290000"/>
<rect x="772" y="1559.71" width="127" height="6.51" fill="#220000"/>
<rect x="772" y="1553.22" width="127" height="6.51" fill="#240000"/>
<rect x="772" y="1546.73" width="127" height="6.51" fill="#270000"/>
<rect x="772" y="1540.24" width="127" height="6.51" fill="#2b0000"/>
<rect x="772" y="1533.75" width="127" height="6.51" fill="#320000"/>
<rect x="772" y="1527.26" width="127" height="6.51" fill="#3d0000"/>
<rect x="772" y="1520.77" width="127" height="6.51" fill="#4e0000"/>
<rect x="772" y="1514.28" width="127" height="6.51" fill="#6d0000"/>
<rect x="772" y="1507.79" width="127" height="6.51" fill="#ae0000"/>
<rect x="772" y="1501.3" width="127" height="6.51" fill="#ff1c00"/>
<rect x="772" y="1494.81" width="127" height="6.51" fill="#ff6100"/>
<rect x="772" y="1488.32" width="127" height="6.51" fill="#ff0300"/>
<rect x="772" y="1481.83" width="127" height="6.51" fill="#bc0000"/>
<rect x="772" y="1475.34" width="127" height="6.51" fill="#770000"/>
<rect x="772" y="1468.85" width="127" height="6.51" fill="#560000"/>
<rect x="772" y="1462.36" width="127" height="6.51" fill="#440000"/>
<rect x="772" y="1455.87" width="127" height="6.51" fill="#390000"/>
<rect x="772" y="1449.38" width="127" height="6.51" fill="#330000"/>
<rect x="772" y="1442.89" width="127" height="6.51" fill="#2d0000"/>
<rect x="772" y="1436.4" width="127" height="6.51" fill="#290000"/>
<rect x="772" y="1429.91" width="127" height="6.51" fill="#250000"/>
<rect x="899" y="1559.71" width="127" height="6.51" fill="#1b0000"/>
<rect x="899" y="1553.22" width="127" height="6.51" fill="#1c0000"/>
<rect x="899" y="1546.73" width="127" height="6.51" fill="#1d0000"/>
<rect x="899" y="1540.24" width="127" height="6.51" fill="#1e0000"/>
<rect x="899" y="1533.75" width="127" height="6.51" fill="#220000"/>
<rect x="899" y="1527.26" width="127" height="6.51" fill="#270000"/>
<rect x="899" y="1520.77" width="127" height="6.51" fill="#2f0000"/>
<rect x="899" y="1514.28" width="127" height="6.51" fill="#3a0000"/>
<rect x="899" y="1507.79" width="127" height="6.51" fill="#490000"/>
<rect x="899" y="1501.3" width="127" height="6.51" fill="#620000"/>
<rect x="899" y="1494.81" width="127" height="6.51" fill="#960000"/>
<rect x="899" y="1488.32" width="127" height="6.51" fill="#fa0000"/>
<rect x="899" y="1481.83" width="127" height="6.51" fill="#ff8d00"/>
<rect x="899" y="1475.34" width="127" height="6.51" fill="#ff9200"/>
<rect x="899" y="1468.85" width="127" height="6.51" fill="#fb0000"/>
<rect x="899" y="1462.36" width="127" height="6.51" fill="#a70000"/>
<rect x="899" y="1455.87" width="127" height="6.51" fill="#790000"/>
<rect x="899" y="1449.38" width="127" height="6.51" fill="#5d0000"/>
<rect x="899" y="1442.89" width="127" height="6.51" fill="#4c0000"/>
<rect x="899" y="1436.4" width="127" height="6.51" fill="#420000"/>
<rect x="899" y="1429.91" width="127" height="6.51" fill="#3a0000"/>
<rect x="899" y="1423.42" width="127" height="6.51" fill="#340000"/>
<rect x="899" y="1416.93" width="127" height="6.51" fill="#300000"/>
<rect x="899" y="1410.44" width="127" height="6.51" fill="#2c0000"/>
<rect x="899" y="1403.95" width="127" height="6.51" fill="#290000"/>
<rect x="899" y="1397.46" width="127" height="6.51" fill="#270000"/>
<rect x="899" y="1390.97" width="127" height="6.51" fill="#250000"/>
<rect x="899" y="1384.48" width="127" height="6.51" fill="#240000"/>
<rect x="899" y="1377.99" width="127" height="6.51" fill="#240000"/>
<rect x="899" y="1371.5" width="127" height="6.51" fill="#230000"/>
<rect x="899" y="1365.01" width="127" height="6.51" fill="#220000"/>
<rect x="1026" y="1527.26" width="127" height="6.51" fill="#1b0000"/>
<rect x="1026" y="1520.77" width="127" height="6.51" fill="#1d0000"/>
<rect x="1026" y="1514.28" width="127" height="6.51" fill="#210000"/>
<rect x="1026" y="1507.79" width="127" height="6.51" fill="#280000"/>
<rect x="1026" y="1501.3" width="127" height="6.51" fill="#300000"/>
<rect x="1026" y="1494.81" width="127" height="6.51" fill="#370000"/>
<rect x="1026" y="1488.32" width="127" height="6.51" fill="#410000"/>
<rect x="1026" y="1481.83" width="127" height="6.51" fill="#570000"/>
<rect x="1026" y="1475.34" width="127" height="6.51" fill="#870000"/>
<rect x="1026" y="1468.85" width="127" height="6.51" fill="#df0000"/>
<rect x="1026" y="1462.36" width="127" height="6.51" fill="#ff5a00"/>
<rect x="1026" y="1455.87" width="127" height="6.51" fill="#ffff0a"/>
<rect x="1026" y="1449.38" width="127" height="6.51" fill="#ff9700"/>
<rect x="1026" y="1442.89" width="127" height="6.51" fill="#ff2000"/>
<rect x="1026" y="1436.4" width="127" height="6.51" fill="#c70000"/>
<rect x="1026" y="1429.91" width="127" height="6.51" fill="#8f0000"/>
<rect x="1026" y="1423.42" width="127" height="6.51" fill="#6e0000"/>
<rect x="1026" y="1416.93" width="127" height="6.51" fill="#5a0000"/>
<rect x="1026" y="1410.44" width="127" height="6.51" fill="#4b0000"/>
<rect x="1026" y="1403.95" width="127" height="6.51" fill="#410000"/>
<rect x="1026" y="1397.46" width="127" height="6.51" fill="#3b0000"/>
<rect x="1026" y="1390.97" width="127" height="6.51" fill="#360000"/>
<rect x="1026" y="1384.48" width="127" height="6.51" fill="#330000"/>
<rect x="1026" y="1377.99" width="127" height="6.51" fill="#310000"/>
<rect x="1026" y="1371.5" width="127" height="6.51" fill="#2f0000"/>
<rect x="1026" y="1365.01" width="127" height="6.51" fill="#2e0000"/>
<rect x="1026" y="1358.52" width="127" height="6.51" fill="#2d0000"/>
<rect x="1026" y="1352.03" width="127" height="6.51" fill="#2c0000"/>
<rect x="1026" y="1345.54" width="127" height="6.51" fill="#2a0000"/>
<rect x="1026" y="1339.05" width="127" height="6.51" fill="#2a0000"/>
<rect x="1026" y="1332.56" width="127" height="6.51" fill="#290000"/>
<rect x="1153" y="1527.26" width="127" height="6.51" fill="#160000"/>
<rect x="1153" y="1520.77" width="127" height="6.51" fill="#160000"/>
<rect x="1153" y="1514.28" width="127" height="6.51" fill="#170000"/>
<rect x="1153" y="1507.79" width="127" height="6.51" fill="#190000"/>
<rect x="1153" y="1501.3" width="127" height="6.51" fill="#1c0000"/>
<rect x="1153" y="1494.81" width="127" height="6.51" fill="#210000"/>
<rect x="1153" y="1488.32" width="127" height="6.51" fill="#2b0000"/>
<rect x="1153" y="1481.83" width="127" height="6.51" fill="#330000"/>
<rect x="1153" y="1475.34" width="127" height="6.51" fill="#340000"/>
<rect x="1153" y="1468.85" width="127" height="6.51" fill="#370000"/>
<rect x="1153" y="1462.36" width="127" height="6.51" fill="#3e0000"/>
<rect x="1153" y="1455.87" width="127" height="6.51" fill="#500000"/>
<rect x="1153" y="1449.38" width="127" height="6.51" fill="#770000"/>
<rect x="1153" y="1442.89" width="127" height="6.51" fill="#b60000"/>
<rect x="1153" y="1436.4" width="127" height="6.51" fill="#ff1000"/>
<rect x="1153" y="1429.91" width="127" height="6.51" fill="#ffa900"/>
<rect x="1153" y="1423.42" width="127" height="6.51" fill="#ffff97"/>
<rect x="1153" y="1416.93" width="127" height="6.51" fill="#ffff08"/>
<rect x="1153" y="1410.44" width="127" height="6.51" fill="#ff8400"/>
<rect x="1153" y="1403.95" width="127" height="6.51" fill="#ff0800"/>
<rect x="1153" y="1397.46" width="127" height="6.51" fill="#bb0000"/>
<rect x="1153" y="1390.97" width="127" height="6.51" fill="#9b0000"/>
<rect x="1153" y="1384.48" width="127" height="6.51" fill="#7d0000"/>
<rect x="1153" y="1377.99" width="127" height="6.51" fill="#6c0000"/>
<rect x="1153" y="1371.5" width="127" height="6.51" fill="#600000"/>
<rect x="1153" y="1365.01" width="127" height="6.51" fill="#570000"/>
<rect x="1153" y="1358.52" width="127" height="6.51" fill="#510000"/>
<rect x="1153" y="1352.03" width="127" height="6.51" fill="#4c0000"/>
<rect x="1153" y="1345.54" width="127" height="6.51" fill="#480000"/>
<rect x="1153" y="1339.05" width="127" height="6.51" fill="#440000"/>
<rect x="1153" y="1332.56" width="127" height="6.51" fill="#420000"/>
<rect x="1153" y="1326.07" width="127" height="6.51" fill="#400000"/>
<rect x="1153" y="1319.58" width="127" height="6.51" fill="#3e0000"/>
<rect x="1153" y="1313.09" width="127" height="6.51" fill="#3b0000"/>
<rect x="1153" y="1306.6" width="127" height="6.51" fill="#390000"/>
<rect x="1153" y="1300.11" width="127" height="6.51" fill="#370000"/>
<rect x="1153" y="1293.62" width="127" height="6.51" fill="#350000"/>
<rect x="1153" y="1287.13" width="127" height="6.51" fill="#340000"/>
<rect x="1153" y="1280.64" width="127" height="6.51" fill="#330000"/>
<rect x="1153" y="1274.15" width="127" height="6.51" fill="#310000"/>
<rect x="1153" y="1267.66" width="127" height="6.51" fill="#300000"/>
<rect x="1280" y="1494.81" width="128" height="6.51" fill="#160000"/>
<rect x="1280" y="1488.32" width="128" height="6.51" fill="#170000"/>
<rect x="1280" y="1481.83" width="128" height="6.51" fill="#190000"/>
<rect x="1280" y="1475.34" width="128" height="6.51" fill="#1e0000"/>
<rect x="1280" y="1468.85" width="128" height="6.51" fill="#290000"/>
<rect x="1280" y="1462.36" width="128" height="6.51" fill="#310000"/>
<rect x="1280" y="1455.87" width="128" height="6.51" fill="#2f0000"/>
<rect x="1280" y="1449.38" width="128" height="6.51" fill="#2b0000"/>
<rect x="1280" y="1442.89" width="128" height="6.51" fill="#2d0000"/>
<rect x="1280" y="1436.4" width="128" height="6.51" fill="#330000"/>
<rect x="1280" y="1429.91" width="128" height="6.51" fill="#3b0000"/>
<rect x="1280" y="1423.42" width="128" height="6.51" fill="#430000"/>
<rect x="1280" y="1416.93" width="128" height="6.51" fill="#4e0000"/>
<rect x="1280" y="1410.44" width="128" height="6.51" fill="#610000"/>
<rect x="1280" y="1403.95" width="128" height="6.51" fill="#7e0000"/>
<rect x="1280" y="1397.46" width="128" height="6.51" fill="#af0000"/>
<rect x="1280" y="1390.97" width="128" height="6.51" fill="#fc0000"/>
<rect x="1280" y="1384.48" width="128" height="6.51" fill="#ff7100"/>
<rect x="1280" y="1377.99" width="128" height="6.51" fill="#ffff25"/>
<rect x="1280" y="1371.5" width="128" height="6.51" fill="#ffffff"/>
<rect x="1280" y="1365.01" width="128" height="6.51" fill="#fffffc"/>
<rect x="1280" y="1358.52" width="128" height="6.51" fill="#ffff3b"/>
<rect x="1280" y="1352.03" width="128" height="6.51" fill="#ffc100"/>
<rect x="1280" y="1345.54" width="128" height="6.51" fill="#ff7800"/>
<rect x="1280" y="1339.05" width="128" height="6.51" fill="#ff2700"/>
<rect x="1280" y="1332.56" width="128" height="6.51" fill="#ed0000"/>
<rect x="1280" y="1326.07" width="128" height="6.51" fill="#d40000"/>
<rect x="1280" y="1319.58" width="128" height="6.51" fill="#bf0000"/>
<rect x="1280" y="1313.09" width="128" height="6.51" fill="#ad0000"/>
<rect x="1280" y="1306.6" width="128" height="6.51" fill="#9f0000"/>
<rect x="1280" y="1300.11" width="128" height="6.51" fill="#950000"/>
<rect x="1280" y="1293.62" width="128" height="6.51" fill="#8c0000"/>
<rect x="1280" y="1287.13" width="128" height="6.51" fill="#820000"/>
<rect x="1280" y="1280.64" width="128" height="6.51" fill="#790000"/>
<rect x="1280" y="1274.15" width="128" height="6.51" fill="#710000"/>
<rect x="1280" y="1267.66" width="128" height="6.51" fill="#6b0000"/>
<rect x="1280" y="1261.17" width="128" height="6.51" fill="#650000"/>
<rect x="1280" y="1254.68" width="128" height="6.51" fill="#620000"/>
<rect x="1280" y="1248.19" width="128" height="6.51" fill="#5e0000"/>
<rect x="1280" y="1241.7" width="128" height="6.51" fill="#5b0000"/>
<rect x="1280" y="1235.21" width="128" height="6.51" fill="#570000"/>
<rect x="1280" y="1228.72" width="128" height="6.51" fill="#550000"/>
<rect x="1280" y="1222.23" width="128" height="6.51" fill="#550000"/>
<rect x="1280" y="1215.74" width="128" height="6.51" fill="#540000"/>
<rect x="1280" y="1209.25" width="128" height="6.51" fill="#530000"/>
<rect x="1280" y="1202.76" width="128" height="6.51" fill="#520000"/>
<rect x="1280" y="1196.27" width="128" height="6.51" fill="#550000"/>
<rect x="1280" y="1189.78" width="128" height="6.51" fill="#590000"/>
<rect x="1280" y="1183.29" width="128" height="6.51" fill="#5b0000"/>
<rect x="1280" y="1176.8" width="128" height="6.51" fill="#5d0000"/>
<rect x="1280" y="1170.31" width="128" height="6.51" fill="#5e0000"/>
<rect x="1280" y="1163.82" width="128" height="6.51" fill="#610000"/>
<rect x="1280" y="1157.33" width="128" height="6.51" fill="#630000"/>
<rect x="1280" y="1150.84" width="128" height="6.51" fill="#660000"/>
<rect x="1280" y="1144.35" width="128" height="6.51" fill="#690000"/>
<rect x="1280" y="1137.86" width="128" height="6.51" fill="#6d0000"/>
<rect x="1280" y="1131.37" width="128" height="6.51" fill="#700000"/>
<rect x="1280" y="1124.88" width="128" height="6.51" fill="#740000"/>
<rect x="1280" y="1118.39" width="128" height="6.51" fill="#770000"/>
<rect x="1280" y="1111.9" width="128" height="6.51" fill="#7a0000"/>
<rect x="1280" y="1105.41" width="128" height="6.51" fill="#810000"/>
<rect x="1280" y="1098.92" width="128" height="6.51" fill="#870000"/>
<rect x="1280" y="1092.43" width="128" height="6.51" fill="#8f0000"/>
<rect x="1280" y="1085.94" width="128" height="6.51" fill="#960000"/>
<rect x="1280" y="1079.45" width="128" height="6.51" fill="#a00000"/>
<rect x="1280" y="1072.96" width="128" height="6.51" fill="#ad0000"/>
</g>
<g id="cbar" shape-rendering="crispEdges">
<rect x="1457" y="1589.38" width="52" height="8.68" fill="#0b0000"/>
<rect x="1457" y="1580.75" width="52" height="8.68" fill="#150000"/>
<rect x="1457" y="1572.12" width="52" height="8.68" fill="#200000"/>
<rect x="1457" y="1563.5" width="52" height="8.68" fill="#2a0000"/>
<rect x="1457" y="1554.88" width="52" height="8.68" fill="#350000"/>
<rect x="1457" y="1546.25" width="52" height="8.68" fill="#400000"/>
<rect x="1457" y="1537.62" width="52" height="8.68" fill="#4a0000"/>
<rect x="1457" y="1529" width="52" height="8.68" fill="#550000"/>
<rect x="1457" y="1520.38" width="52" height="8.68" fill="#600000"/>
<rect x="1457" y="1511.75" width="52" height="8.68" fill="#6a0000"/>
<rect x="1457" y="1503.12" width="52" height="8.68" fill="#750000"/>
<rect x="1457" y="1494.5" width="52" height="8.68" fill="#800000"/>
<rect x="1457" y="1485.88" width="52" height="8.68" fill="#8a0000"/>
<rect x="1457" y="1477.25" width="52" height="8.68" fill="#950000"/>
<rect x="1457" y="1468.62" width="52" height="8.68" fill="#9f0000"/>
<rect x="1457" y="1460" width="52" height="8.68" fill="#aa0000"/>
<rect x="1457" y="1451.38" width="52" height="8.68" fill="#b50000"/>
<rect x="1457" y="1442.75" width="52" height="8.68" fill="#bf0000"/>
<rect x="1457" y="1434.12" width="52" height="8.68" fill="#ca0000"/>
<rect x="1457" y="1425.5" width="52" height="8.68" fill="#d40000"/>
<rect x="1457" y="1416.88" width="52" height="8.68" fill="#df0000"/>
<rect x="1457" y="1408.25" width="52" height="8.68" fill="#ea0000"/>
<rect x="1457" y="1399.62" width="52" height="8.68" fill="#f40000"/>
<rect x="1457" y="1391" width="52" height="8.68" fill="#ff0000"/>
<rect x="1457" y="1382.38" width="52" height="8.68" fill="#ff0b00"/>
<rect x="1457" y="1373.75" width="52" height="8.68" fill="#ff1500"/>
<rect x="1457" y="1365.12" width="52" height="8.68" fill="#ff2000"/>
<rect x="1457" y="1356.5" width="52" height="8.68" fill="#ff2a00"/>
<rect x="1457" y="1347.88" width="52" height="8.68" fill="#ff3500"/>
<rect x="1457" y="1339.25" width="52" height="8.68" fill="#ff4000"/>
<rect x="1457" y="1330.62" width="52" height="8.68" fill="#ff4a00"/>
<rect x="1457" y="1322" width="52" height="8.68" fill="#ff5500"/>
<rect x="1457" y="1313.38" width="52" height="8.68" fill="#ff6000"/>
<rect x="1457" y="1304.75" width="52" height="8.68" fill="#ff6a00"/>
<rect x="1457" y="1296.12" width="52" height="8.68" fill="#ff7500"/>
<rect x="1457" y="1287.5" width="52" height="8.68" fill="#ff8000"/>
<rect x="1457" y="1278.88" width="52" height="8.68" fill="#ff8a00"/>
<rect x="1457" y="1270.25" width="52" height="8.68" fill="#ff9500"/>
<rect x="1457" y="1261.62" width="52" height="8.68" fill="#ff9f00"/>
<rect x="1457" y="1253" width="52" height="8.68" fill="#ffaa00"/>
<rect x="1457" y="1244.38" width="52" height="8.68" fill="#ffb500"/>
<rect x="1457" y="1235.75" width="52" height="8.68" fill="#ffbf00"/>
<rect x="1457" y="1227.12" width="52" height="8.68" fill="#ffca00"/>
<rect x="1457" y="1218.5" width="52" height="8.68" fill="#ffd400"/>
<rect x="1457" y="1209.88" width="52" height="8.68" fill="#ffdf00"/>
<rect x="1457" y="1201.25" width="52" height="8.68" fill="#ffea00"/>
<rect x="1457" y="1192.62" width="52" height="8.68" fill="#fff400"/>
<rect x="1457" y="1184" width="52" height="8.68" fill="#ffff00"/>
<rect x="1457" y="1175.38" width="52" height="8.68" fill="#ffff10"/>
<rect x="1457" y="1166.75" width="52" height="8.68" fill="#ffff20"/>
<rect x="1457" y="1158.12" width="52" height="8.68" fill="#ffff30"/>
<rect x="1457" y="1149.5" width="52" height="8.68" fill="#ffff40"/>
<rect x="1457" y="1140.88" width="52" height="8.68" fill="#ffff50"/>
<rect x="1457" y="1132.25" width="52" height="8.68" fill="#ffff60"/>
<rect x="1457" y="1123.62" width="52" height="8.68" fill="#ffff70"/>
<rect x="1457" y="1115" width="52" height="8.68" fill="#ffff80"/>
<rect x="1457" y="1106.38" width="52" height="8.68" fill="#ffff8f"/>
<rect x="1457" y="1097.75" width="52" height="8.68" fill="#ffff9f"/>
<rect x="1457" y="1089.12" width="52" height="8.68" fill="#ffffaf"/>
<rect x="1457" y="1080.5" width="52" height="8.68" fill="#ffffbf"/>
<rect x="1457" y="1071.88" width="52" height="8.68" fill="#ffffcf"/>
<rect x="1457" y="1063.25" width="52" height="8.68" fill="#ffffdf"/>
<rect x="1457" y="1054.62" width="52" height="8.68" fill="#ffffef"/>
<rect x="1457" y="1046" width="52" height="8.68" fill="#ffffff"/>
</g>
<rect x="1457.2" y="1046.8" width="51.6" height="551.2" fill="none" stroke="#262626" stroke-width="2.4"/>
<text transform="translate(1517.96 1055.28) scale(1.0342 1)" font-family='"Liberation Sans", Arial, Helvetica, sans-serif' font-size="22.08" font-weight="bold" fill="#262626">Max</text>
<text transform="translate(1518.02 1606.2) scale(1.0423 1)" font-family='"Liberation Sans", Arial, Helvetica, sans-serif' font-size="20.97" font-weight="bold" fill="#262626">Min</text>
<text transform="translate(443.09 1076.17) scale(1.101 1)" font-family='"Liberation Serif", "Times New Roman", Times, serif' font-size="28.49" font-weight="bold" fill="#000">1.3</text>
<text transform="translate(443.07 1142.47) scale(1.1084 1)" font-family='"Liberation Serif", "Times New Roman", Times, serif' font-size="28.49" font-weight="bold" fill="#000">1.2</text>
<text transform="translate(443.1 1208.77) scale(1.0923 1)" font-family='"Liberation Serif", "Times New Roman", Times, serif' font-size="28.59" font-weight="bold" fill="#000">1.1</text>
<text transform="translate(443.02 1275.07) scale(1.1355 1)" font-family='"Liberation Serif", "Times New Roman", Times, serif' font-size="28.38" font-weight="bold" fill="#000">1.0</text>
<text transform="translate(442.79 1341.37) scale(1.14 1)" font-family='"Liberation Serif", "Times New Roman", Times, serif' font-size="28.38" font-weight="bold" fill="#000">0.9</text>
<text transform="translate(442.79 1407.67) scale(1.1376 1)" font-family='"Liberation Serif", "Times New Roman", Times, serif' font-size="28.38" font-weight="bold" fill="#000">0.8</text>
<text transform="translate(442.8 1473.97) scale(1.1304 1)" font-family='"Liberation Serif", "Times New Roman", Times, serif' font-size="28.38" font-weight="bold" fill="#000">0.7</text>
<text transform="translate(442.79 1540.27) scale(1.1352 1)" font-family='"Liberation Serif", "Times New Roman", Times, serif' font-size="28.38" font-weight="bold" fill="#000">0.6</text>
<text transform="translate(442.78 1606.57) scale(1.1425 1)" font-family='"Liberation Serif", "Times New Roman", Times, serif' font-size="28.38" font-weight="bold" fill="#000">0.5</text>
<text transform="translate(501.53 1645.37) scale(1.0662 1)" font-family='"Liberation Serif", "Times New Roman", Times, serif' font-size="28.93" font-weight="bold" fill="#000">1.32</text>
<text transform="translate(616.14 1645.37) scale(1.0613 1)" font-family='"Liberation Serif", "Times New Roman", Times, serif' font-size="28.93" font-weight="bold" fill="#000">1.33</text>
<text transform="translate(747.7 1645.37) scale(1.0814 1)" font-family='"Liberation Serif", "Times New Roman", Times, serif' font-size="28.93" font-weight="bold" fill="#000">1.34</text>
<text transform="translate(879.08 1645.37) scale(1.0905 1)" font-family='"Liberation Serif", "Times New Roman", Times, serif' font-size="28.93" font-weight="bold" fill="#000">1.35</text>
<text transform="translate(995.19 1645.37) scale(1.0834 1)" font-family='"Liberation Serif", "Times New Roman", Times, serif' font-size="28.93" font-weight="bold" fill="#000">1.36</text>
<text transform="translate(1119.26 1645.37) scale(1.0549 1)" font-family='"Liberation Serif", "Times New Roman", Times, serif' font-size="28.93" font-weight="bold" fill="#000">1.37</text>
<text transform="translate(1242.19 1645.37) scale(1.089 1)" font-family='"Liberation Serif", "Times New Roman", Times, serif' font-size="28.82" font-weight="bold" fill="#000">1.38</text>
<text transform="translate(1366.17 1645.37) scale(1.093 1)" font-family='"Liberation Serif", "Times New Roman", Times, serif' font-size="28.93" font-weight="bold" fill="#000">1.39</text>
<text transform="translate(890.7 1693.2) scale(1.1629 1)" font-family='"Liberation Serif", "Times New Roman", Times, serif' font-size="34.4" font-weight="bold" fill="#000">Analyte RI</text>
<text transform="translate(416.3 1482.34) rotate(-90) scale(0.9028 1)" font-family='"Liberation Serif", "Times New Roman", Times, serif' font-size="39.56" font-weight="bold" fill="#000">Wavelength(µm)</text>
<text transform="translate(322.18 1066.19) scale(1.0497 1)" font-family='"Liberation Sans", Arial, Helvetica, sans-serif' font-size="65.09" font-weight="bold" fill="#000">(c)</text>
</svg>
</body>
</html>
